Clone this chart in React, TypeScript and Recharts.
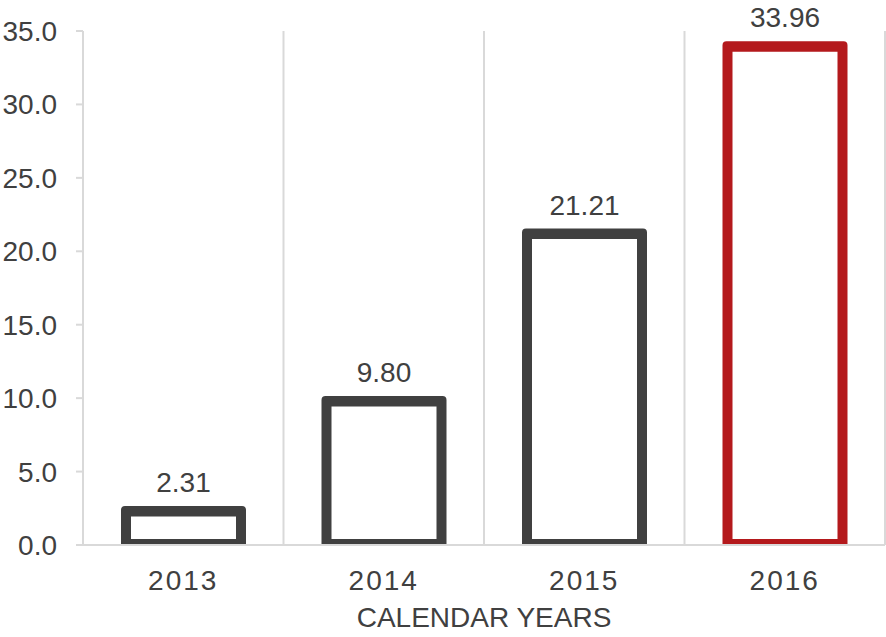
import React from "react";
import { BarChart, Bar, XAxis, YAxis, CartesianGrid, LabelList } from "recharts";

const years = ["2013", "2014", "2015", "2016"];
const values = [2.31, 9.8, 21.21, 33.96];
const yTicks = [0, 5, 10, 15, 20, 25, 30, 35];
const highlightYear = "2016";
const axisTitle = "CALENDAR YEARS";

const data = years.map((year, i) => ({ year, value: values[i] }));

const DARK = "#404040";
const RED = "#B4191C";
const GRID = "#D9D9D9";
const FONT = "'Liberation Sans', Arial, sans-serif";

const FrameBar = (props: any) => {
  const { x, y, width, height, payload } = props;
  const color = payload && payload.year === highlightYear ? RED : DARK;
  const sw = 10;
  const r = 4;
  const l = x;
  const rt = x + width;
  const t = y - 5;
  const b = y + height;
  const il = x + sw;
  const ir = x + width - sw;
  const it = y + 5.5;
  const ib = y + height - 6;
  const d =
    `M${l},${b} L${l},${t + r} Q${l},${t} ${l + r},${t} L${rt - r},${t} Q${rt},${t} ${rt},${t + r} L${rt},${b} Z ` +
    `M${il},${it} L${il},${ib} L${ir},${ib} L${ir},${it} Z`;
  return <path d={d} fill={color} fillRule="evenodd" />;
};

export default function App() {
  return (
    <div style={{ position: "absolute", left: 0, top: 0, background: "#fff" }}>
      <BarChart
        width={886}
        height={637}
        data={data}
        margin={{ top: 31, right: 1, left: 0, bottom: 0 }}
      >
        <CartesianGrid
          horizontal={false}
          stroke={GRID}
          strokeWidth={2}
          verticalCoordinatesGenerator={(p: any) => {
            const off = p.offset;
            return years.map((_, i) => off.left + (off.width * (i + 1)) / years.length);
          }}
        />
        <XAxis
          dataKey="year"
          height={92}
          tickLine={false}
          tickSize={0}
          tickMargin={25}
          axisLine={{ stroke: GRID, strokeWidth: 2 }}
          tick={{ fill: DARK, fontSize: 28, fontFamily: FONT, letterSpacing: 2 }}
          label={{
            value: axisTitle,
            position: "insideBottom",
            offset: 10,
            fill: DARK,
            fontSize: 28,
            fontFamily: FONT,
          }}
        />
        <YAxis
          width={83}
          domain={[0, 35]}
          ticks={yTicks}
          interval={0}
          tickSize={7}
          tickMargin={19}
          axisLine={{ stroke: GRID, strokeWidth: 2 }}
          tickLine={{ stroke: GRID, strokeWidth: 2 }}
          tickFormatter={(v: number) => v.toFixed(1)}
          tick={{ fill: DARK, fontSize: 28, fontFamily: FONT }}
        />
        <Bar dataKey="value" barSize={125} shape={<FrameBar />} isAnimationActive={false}>
          <LabelList
            dataKey="value"
            position="top"
            offset={19}
            formatter={(v: any) => Number(v).toFixed(2)}
            fill={DARK}
            fontSize={28}
            fontFamily={FONT}
          />
        </Bar>
      </BarChart>
    </div>
  );
}
